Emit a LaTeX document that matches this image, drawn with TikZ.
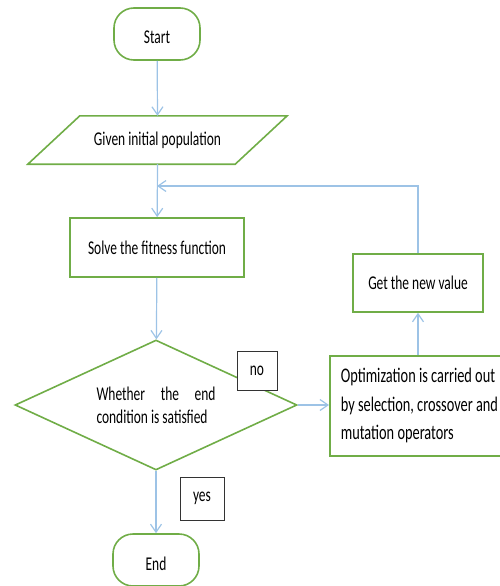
\documentclass[tikz,border=0pt]{standalone}
\usepackage{fontspec}
\setmainfont[FakeStretch=0.69]{Carlito}
\usetikzlibrary{arrows.meta, shapes.geometric}
\definecolor{boxgreen}{RGB}{112,173,71}
\definecolor{flowblue}{RGB}{157,195,230}

\begin{document}
\begin{tikzpicture}[x=1pt, y=1pt,
  every node/.style={font=\fontsize{19.5}{23}\selectfont, inner sep=0pt},
  terminal/.style={draw=boxgreen, line width=1.6pt, rounded corners=20pt, minimum width=86, minimum height=52,
    text height=20pt, text depth=0pt},
  process/.style={draw=boxgreen, line width=1.6pt, fill=white},
  tag/.style={draw=black!80, line width=0.8pt, fill=white},
  flow/.style={draw=flowblue, line width=1.2pt, -{Straight Barb[length=8pt,width=11pt]}}]
\clip (0,0) rectangle (500,-586);
\node [terminal] (start) at (157,-34) {Start};
\node [minimum width=207, minimum height=48] (given) at (157.5,-140) {Given initial population};
\draw [boxgreen, line width=1.6pt] ([xshift=-26]given.south west) -- ([xshift=26]given.north west)
  -- ([xshift=26]given.north east) -- ([xshift=-26]given.south east) -- cycle;
\node [process, minimum width=174, minimum height=59] (solve) at (157,-247.5) {Solve the fitness function};
\node [process, diamond, aspect=2.17, minimum width=282, minimum height=130, text width=119, align=justify] (cond) at (156,-405)
  {Whether the end\linebreak condition is satisfied};
\node [process, anchor=north west, minimum height=100, inner xsep=11, align=left,
  font=\fontsize{20.8}{28.5}\selectfont] (optim) at (329,-355)
  {Optimization is carried out\\ by selection, crossover and\\ mutation operators};
\node [process, minimum width=130, minimum height=58] (newval) at (418,-283) {Get the new value};
\node [terminal] (stop) at (156,-560) {End};
\node [tag, minimum width=40, minimum height=39] (no) at (257,-370.5) {no};
\node [tag, minimum width=44, minimum height=43] (yes) at (202,-498.5) {yes};
\coordinate (join) at (157,-186);
\coordinate (corner) at (416,-186);

\draw [flow] (start) -- (given.north);
\draw [flow] (given.south) -- (solve);
\draw [flow] (solve) -- (cond);
\draw [flow] (cond.east) -- (cond.east -| optim.west);
\draw [flow] (newval.south |- optim.north) -- (newval.south);
\draw [flow] (newval.north) -- (newval.north |- corner) -- (join);
\draw [flow] (cond.south) -- (stop);
\end{tikzpicture}
\end{document}
